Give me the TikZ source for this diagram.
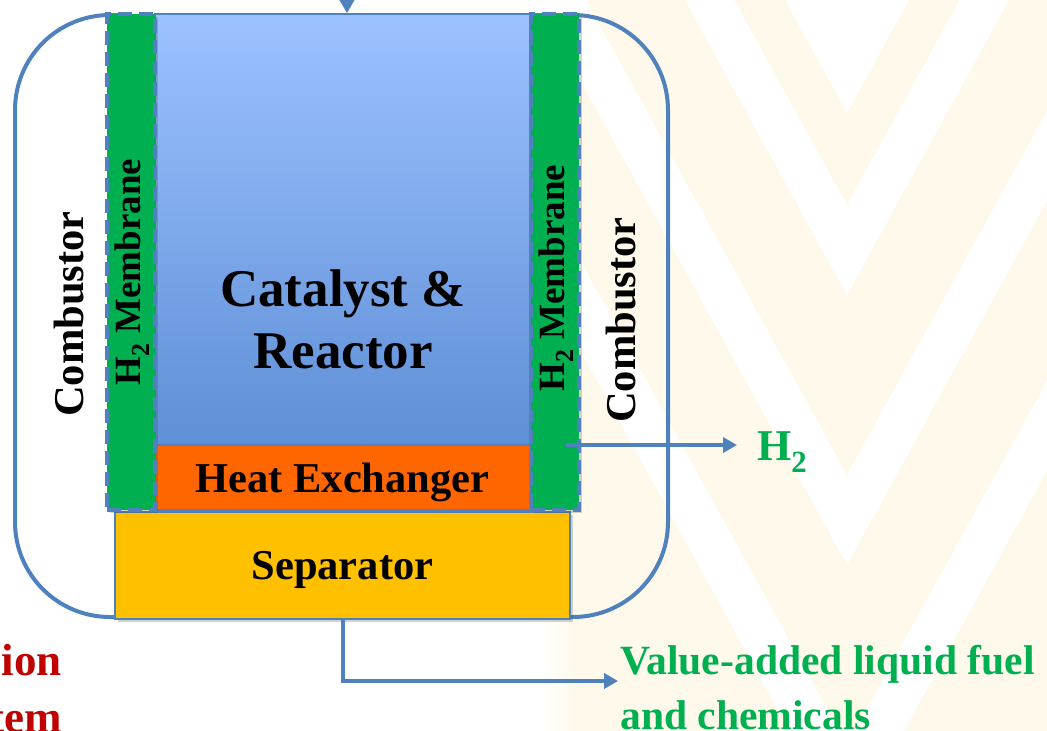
\documentclass[tikz,border=0pt]{standalone}
\usepackage{fontspec}
\setmainfont{Liberation Serif}
\usetikzlibrary{arrows.meta,shadows}
\definecolor{lineblue}{HTML}{4F81BD}
\definecolor{memgreen}{HTML}{00B050}
\definecolor{hxorange}{HTML}{FF6600}
\definecolor{sepgold}{HTML}{FFC000}
\definecolor{darkred}{HTML}{C00000}
\definecolor{cream}{HTML}{FEF9EB}
\definecolor{reacttop}{HTML}{9CC2FF}
\definecolor{reactbot}{HTML}{5F8FD6}
\tikzset{
  outerline/.style={draw=lineblue, line width=4pt},
  boxshadow/.style={drop shadow={shadow xshift=3pt, shadow yshift=-3pt, opacity=.25, fill=black!70}},
  membox/.style={draw=lineblue, fill=memgreen, line width=4pt, dash pattern=on 14pt off 7pt,
     minimum width=48pt, minimum height=496pt, inner sep=0pt, boxshadow},
  reactbox/.style={draw=lineblue, line width=1.5pt, top color=reacttop, bottom color=reactbot,
     minimum width=375pt, minimum height=431pt, inner sep=0pt},
  hxbox/.style={draw=lineblue, line width=1.5pt, fill=hxorange, minimum width=375pt,
     minimum height=65pt, inner sep=0pt, text depth=0pt, font=\fontsize{42.5}{51}\selectfont\bfseries},
  sepbox/.style={draw=lineblue, line width=2pt, fill=sepgold, minimum width=455pt,
     minimum height=107pt, inner sep=0pt, text depth=0pt, font=\fontsize{42.5}{51}\selectfont\bfseries, boxshadow},
  bigtext/.style={font=\fontsize{42.5}{51}\selectfont\bfseries, inner sep=0pt},
  memtext/.style={font=\fontsize{37}{44}\selectfont\bfseries, inner sep=0pt},
  flow/.style={draw=lineblue, line width=4pt, -{Triangle[width=15pt,length=14pt]}},
}
\begin{document}
\begin{tikzpicture}[x=1pt,y=-1pt]
\useasboundingbox (0,0) rectangle (1047,731);
\clip (0,0) rectangle (1047,731);
% faint background watermark
\fill[cream] (575,0) rectangle (1047,731);
\shade[left color=white, right color=cream] (540,0) rectangle (576,731);
\fill[white] (847,113) -- (785,0) -- (909,0) -- cycle;
\foreach \a in {205,475,745}{
  \fill[white] (847,\a) -- (540,\a-558) -- (540,\a-468) -- (847,\a+90) -- (1047,\a+90-364) -- (1047,\a-364) -- cycle;
}
% outer combustor walls
\draw[outerline, rounded corners=95pt] (125,15) -- (15,15) -- (15,617) -- (125,617);
\draw[outerline, rounded corners=95pt] (520,15) -- (668,15) -- (668,617) -- (560,617);
% reactor, heat exchanger, separator, membranes
\node[reactbox] (reactor) at (342.5,229.5) {};
\node[hxbox] (hx) at (342.5,477.5) {Heat Exchanger};
\node[sepbox] (sep) at (342.5,565) {Separator};
\node[membox] (lmem) at (131,262) {};
\node[membox] (rmem) at (555,262) {};
% labels
\node[font=\fontsize{53}{62}\selectfont\bfseries, align=center, inner sep=0pt] (cat) at (343,319) {Catalyst \&\\Reactor};
\node[bigtext, rotate=90] (lcomb) at (69,314) {Combustor};
\node[bigtext, rotate=90] (rcomb) at (621,320) {Combustor};
\node[memtext, rotate=90] (lmemt) at (132,272) {H\textsubscript{2} Membrane};
\node[memtext, rotate=90] (rmemt) at (556,278) {H\textsubscript{2} Membrane};
\node[bigtext, text=memgreen, anchor=west, font=\fontsize{44}{52}\selectfont\bfseries] (h2) at (757,452) {H\textsubscript{2}};
\node[bigtext, text=memgreen, anchor=west, align=left, font=\fontsize{41.6}{55}\selectfont\bfseries] (prod) at (620,688) {Value-added liquid fuel\\and chemicals};
\node[bigtext, text=darkred, anchor=east, align=right, font=\fontsize{45}{57}\selectfont\bfseries] (redtxt) at (62,689) {ion\\tem};
% connectors
\coordinate (feed) at (347,-10);
\draw[flow] (feed) -- (feed |- reactor.north);
\coordinate (h2start) at (566,445);
\coordinate (h2end) at (737,445);
\draw[flow] (h2start) -- (h2end);
\coordinate (prodend) at (618,681);
\draw[flow] (sep.south) |- (prodend);
\end{tikzpicture}
\end{document}
